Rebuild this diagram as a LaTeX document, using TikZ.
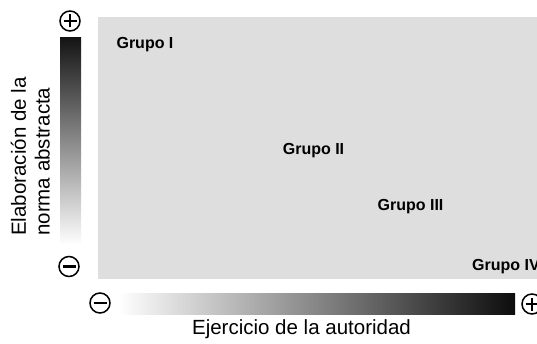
\documentclass[tikz,border=0pt]{standalone}
\usepackage{fontspec}
\setmainfont{Liberation Sans}

\tikzset{
  signo/.style={circle, draw, line width=1.5pt, minimum size=20pt, inner sep=0pt},
  signomas/.style={signo, path picture={
      \draw[line width=2.8pt] ([xshift=-6.5pt]path picture bounding box.center) -- ([xshift=6.5pt]path picture bounding box.center);
      \draw[line width=2.8pt] ([yshift=-6.5pt]path picture bounding box.center) -- ([yshift=6.5pt]path picture bounding box.center);
    }},
  signomenos/.style={signo, path picture={
      \draw[line width=2.8pt] ([xshift=-6.5pt]path picture bounding box.center) -- ([xshift=6.5pt]path picture bounding box.center);
    }},
  grupo/.style={font=\bfseries\fontsize{16}{19}\selectfont, inner sep=0pt},
  eje/.style={font=\fontsize{20.5}{23.8}\selectfont, inner sep=0pt}
}

\begin{document}
\begin{tikzpicture}[x=1pt, y=1pt]

    \newcommand*{\xMin}{98}%
    \newcommand*{\xMax}{537}%
    \newcommand*{\yMin}{64}%
    \newcommand*{\yMax}{326}%
    \def\barW {21};

    \useasboundingbox (0,0) rectangle (537,343);

    % campo gris
    \fill[black!13] (\xMin,\yMin) rectangle (\xMax,\yMax);

    % barras de degradado
    \shade[top color=black!92, bottom color=white] (60,98) rectangle (60+\barW,305);
    \shade[left color=white, right color=black!95] (118,29) rectangle (515,29+\barW);

    \node[signomas] (masY) at (70,322) {};
    \node[signomenos] (menosY) at (69,76.5) {};
    \node[signomenos] (menosX) at (100,40) {};
    \node[signomas] (masX) at (532,39) {};

    \node[eje, rotate=90, align=left] (ejeY) at (30.4,186.5) {Elaboración de la\\norma abstracta};
    \node[eje, anchor=base] (ejeX) at (301.5,8.3) {Ejercicio de la autoridad};

    \node[grupo] (g1) at (145,298) {Grupo I};
    \node[grupo] (g2) at (313.5,192) {Grupo II};
    \node[grupo] (g3) at (410.5,136) {Grupo III};
    \node[grupo, anchor=west] (g4) at (472,76) {Grupo IV};

  \end{tikzpicture}
\end{document}
